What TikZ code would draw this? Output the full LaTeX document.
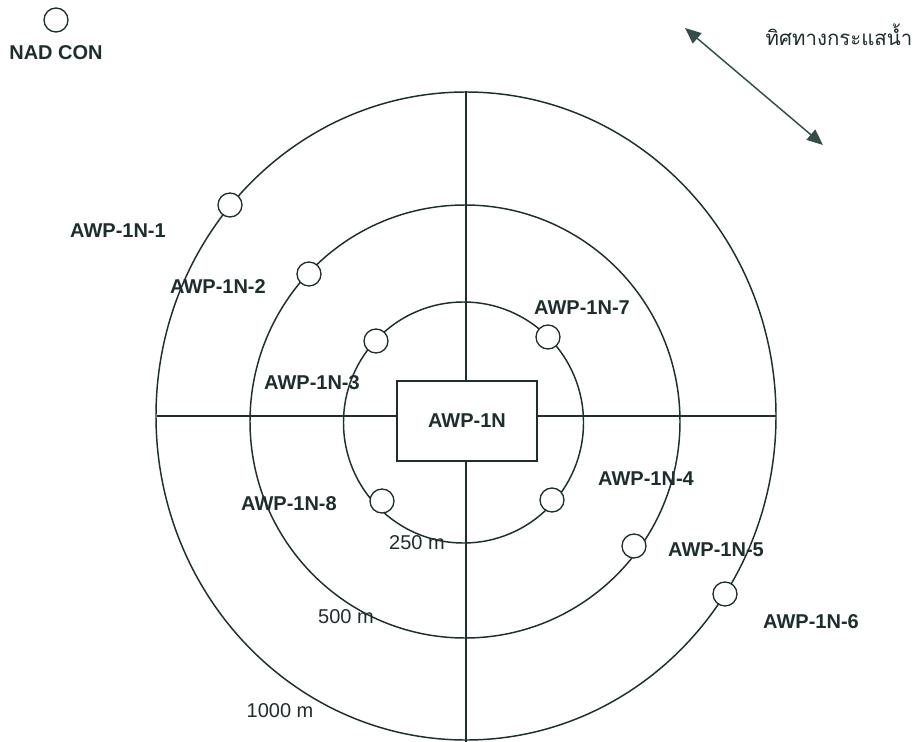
\documentclass[tikz,border=0pt]{standalone}
\usepackage{fontspec}
\setmainfont{Liberation Sans}
\newfontfamily\thaifont[Script=Thai]{Loma}
\usetikzlibrary{arrows.meta}

\definecolor{ink}{RGB}{30,45,45}
\definecolor{flow}{RGB}{50,78,72}

\begin{document}
\begin{tikzpicture}[x=0.75pt, y=-0.75pt,
  well/.style={circle, draw=ink, fill=white, line width=1pt, minimum size=18pt, inner sep=0pt},
  tag/.style={font=\fontsize{15}{18}\selectfont\bfseries, text=ink},
  dist/.style={font=\fontsize{15}{18}\selectfont, text=ink}]
\useasboundingbox (0,0) rectangle (918,742);

\draw[ink, line width=1.1pt] (466,416) ellipse [x radius=310, y radius=324];
\draw[ink, line width=1.1pt] (465,421.5) ellipse [x radius=215, y radius=216.5];
\draw[ink, line width=1.1pt] (463.5,422.5) ellipse [x radius=120, y radius=120.5];

\node (main) at (467,421) [draw=ink, line width=1.1pt, fill=white, minimum width=105pt, minimum height=60pt, tag] {AWP-1N};
\coordinate (top) at (466,91);
\coordinate (bottom) at (466,742);
\coordinate (west) at (157,416);
\coordinate (east) at (776,416);
\draw[ink, line width=1.1pt] (top) -- (main.north -| top);
\draw[ink, line width=1.1pt] (main.south -| bottom) -- (bottom);
\draw[ink, line width=1.1pt] (west) -- (main.west |- west);
\draw[ink, line width=1.1pt] (main.east |- east) -- (east);

\node (w1) at (230,205) [well] {};
\node (w2) at (309,274) [well] {};
\node (w3) at (376,341) [well] {};
\node (w7) at (548,337) [well] {};
\node (w8) at (382,501) [well] {};
\node (w4) at (552,500) [well] {};
\node (w5) at (634,546) [well] {};
\node (w6) at (725,594) [well] {};
\node (nad) at (56,20) [well] {};

\node (l1) at (118,231) [tag] {AWP-1N-1};
\node (l2) at (218,287) [tag] {AWP-1N-2};
\node (l3) at (312,383) [tag] {AWP-1N-3};
\node (l7) at (582,308) [tag] {AWP-1N-7};
\node (l8) at (289,504) [tag] {AWP-1N-8};
\node (l4) at (646,479) [tag] {AWP-1N-4};
\node (l5) at (716,550) [tag] {AWP-1N-5};
\node (l6) at (811,622) [tag] {AWP-1N-6};
\node (lnad) at (56,53) [tag] {NAD CON};

\node (r250) at (417,543) [dist] {250 m};
\node (r500) at (346,617) [dist] {500 m};
\node (r1000) at (280,711) [dist] {1000 m};

\coordinate (up) at (685,28);
\coordinate (down) at (823,145);
\draw[{Triangle[length=12pt, width=10pt]}-{Triangle[length=12pt, width=10pt]}, flow, line width=1.1pt] (up) -- (down);
\node (current) at (839,35) [font=\thaifont\fontsize{15.3}{18}\selectfont, text=ink] {ทิศทางกระแสน้ำ};
\end{tikzpicture}
\end{document}
